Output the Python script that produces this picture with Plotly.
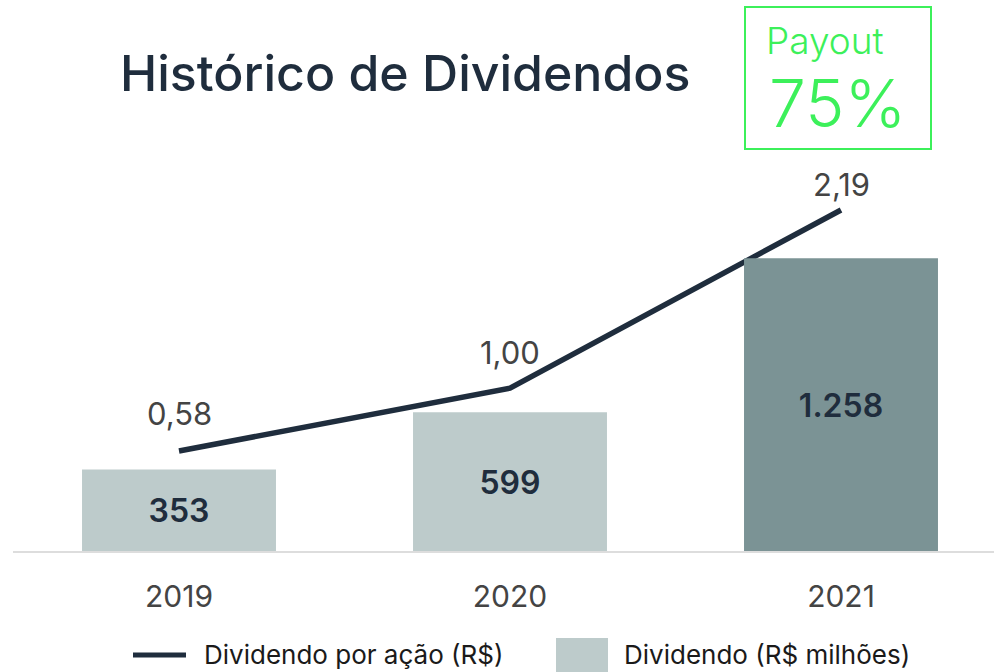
import plotly.graph_objects as go

# ---- data ----
years = ["2019", "2020", "2021"]
dividend_millions = [353, 599, 1258]
dividend_labels = ["353", "599", "1.258"]
dps = [0.58, 1.00, 2.19]
dps_labels = ["0,58", "1,00", "2,19"]
payout_label = "Payout"
payout_value = "75%"
title_text = "Histórico de Dividendos"
legend_line = "Dividendo por ação (R$)"
legend_bar = "Dividendo (R$ milhões)"

W, H = 994, 672
PT, PB = 160, 552  # plot area top / bottom in px

def px(x):
    return x / W

def py(y):
    return (PB - y) / (PB - PT)

NAVY = "#1f2d3d"
GRAY_TXT = "#444444"
LIGHT_BAR = "#bdcbcb"
DARK_BAR = "#7b9395"
GREEN = "#3cf05a"
FONT = "Inter"

bar_colors = [LIGHT_BAR, LIGHT_BAR, DARK_BAR]

fig = go.Figure()

# line on primary axis (drawn underneath the bars)
fig.add_trace(go.Scatter(
    x=[0, 1, 2], y=dps, mode="lines",
    line=dict(color=NAVY, width=5.5),
    yaxis="y", showlegend=False, hoverinfo="skip",
))

# bars on overlaying axis (drawn on top)
fig.add_trace(go.Bar(
    x=[0, 1, 2], y=dividend_millions, width=0.586,
    marker=dict(color=bar_colors, line=dict(width=0)),
    text=dividend_labels, textposition="inside", insidetextanchor="middle",
    textfont=dict(family=FONT, size=32, color=NAVY, weight=600),
    yaxis="y2", showlegend=False, hoverinfo="skip",
))

x_range = [-179 / 331, -179 / 331 + W / 331]
y1_bottom = -(PB - 537.8) / 149.7
y1_range = [y1_bottom, y1_bottom + (PB - PT) / 149.7]
y2_range = [0, (PB - PT) / 0.2335]

annotations = []
shifts = [37, 36, 25]
for i, (v, lab) in enumerate(zip(dps, dps_labels)):
    annotations.append(dict(
        x=i, y=v, xref="x", yref="y", text=lab, showarrow=False,
        yshift=shifts[i], yanchor="middle",
        font=dict(family=FONT, size=31, color=GRAY_TXT),
    ))

annotations += [
    dict(x=px(405), y=py(73), xref="paper", yref="paper", text=title_text,
         showarrow=False, xanchor="center", yanchor="middle",
         font=dict(family=FONT, size=50, color=NAVY, weight=500)),
    dict(x=px(825), y=py(40), xref="paper", yref="paper", text=payout_label,
         showarrow=False, xanchor="center", yanchor="middle",
         font=dict(family=FONT, size=37, color=GREEN, weight=300)),
    dict(x=px(837), y=py(103), xref="paper", yref="paper", text=payout_value,
         showarrow=False, xanchor="center", yanchor="middle",
         font=dict(family=FONT, size=66, color=GREEN, weight=300)),
    dict(x=px(202), y=py(654), xref="paper", yref="paper", text=legend_line,
         showarrow=False, xanchor="left", yanchor="middle",
         font=dict(family=FONT, size=26, color="#1a1a1a")),
    dict(x=px(622), y=py(654), xref="paper", yref="paper", text=legend_bar,
         showarrow=False, xanchor="left", yanchor="middle",
         font=dict(family=FONT, size=26, color="#1a1a1a")),
]

shapes = [
    dict(type="rect", xref="paper", yref="paper",
         x0=px(745), x1=px(931), y0=py(149), y1=py(7),
         line=dict(color=GREEN, width=2), fillcolor="rgba(0,0,0,0)"),
    dict(type="line", xref="paper", yref="paper",
         x0=px(13), x1=1, y0=py(552), y1=py(552),
         line=dict(color="#dddddd", width=2), layer="above"),
    dict(type="line", xref="paper", yref="paper",
         x0=px(133), x1=px(186), y0=py(655), y1=py(655),
         line=dict(color=NAVY, width=5)),
    dict(type="rect", xref="paper", yref="paper",
         x0=px(556), x1=px(608), y0=py(672), y1=py(638),
         line=dict(width=0), fillcolor=LIGHT_BAR),
]

fig.update_layout(
    width=W, height=H,
    margin=dict(l=0, r=0, t=PT, b=H - PB, pad=0),
    paper_bgcolor="white", plot_bgcolor="white",
    showlegend=False,
    xaxis=dict(range=x_range, tickmode="array", tickvals=[0, 1, 2], ticktext=years,
               showgrid=False, zeroline=False, showline=False, ticks="",
               ticklabelstandoff=24,
               tickfont=dict(family=FONT, size=30, color=GRAY_TXT), fixedrange=True),
    yaxis=dict(range=y1_range, visible=False, showgrid=False, zeroline=False, fixedrange=True),
    yaxis2=dict(range=y2_range, overlaying="y", visible=False, showgrid=False,
                zeroline=False, fixedrange=True),
    annotations=annotations,
    shapes=shapes,
)

fig.write_html(
    "out.html",
    config={"displayModeBar": False},
    post_script="document.body.style.margin='0';document.body.style.overflow='hidden';",
)
